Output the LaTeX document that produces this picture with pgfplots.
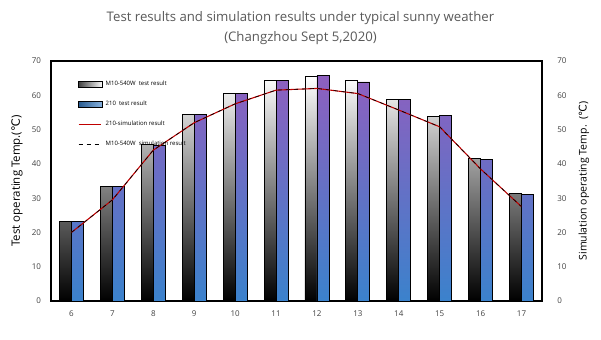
\documentclass[border=0pt]{standalone}
\usepackage{pgfplots}
\pgfplotsset{compat=1.18}
\usepackage{fontspec}
\setmainfont{Open Sans}
\newfontfamily\dejavu{DejaVu Sans}
\definecolor{txt}{HTML}{404040}
\definecolor{ttl}{HTML}{595959}
\definecolor{purp}{HTML}{8E5FBF}
\definecolor{blu}{HTML}{3B82CC}
\definecolor{simred}{HTML}{C00000}
\begin{document}
\begin{tikzpicture}
\begin{axis}[
  name=main,
  scale only axis, width=368.25pt, height=180pt,
  xmin=5.5, xmax=17.5, ymin=0, ymax=70,
  xtick={6,...,17}, ytick={0,10,...,70},
  ytick pos=left, xtick pos=bottom,
  axis line style={line width=1.2pt},
  major tick length=0pt,
  /pgf/number format/assume math mode=true,
  ticklabel style={font=\fontsize{6}{7}\selectfont, text=txt},
  yticklabel style={xshift=-4pt},
  xticklabel style={yshift=-4pt},
  ylabel={Test operating Temp.({\dejavu ℃})},
  ylabel style={at={(axis description cs:-0.0693,0.5)}, anchor=center, font=\fontsize{8.6}{10}\selectfont, text=black},
  title={Test results and simulation results under typical sunny weather\\(Changzhou Sept 5,2020)},
  title style={at={(axis description cs:0.5,1)}, anchor=south, yshift=3pt, xshift=3pt, align=center, font=\fontsize{9.9}{14.5}\selectfont, text=ttl},
  legend style={draw=none, fill=none, at={(axis description cs:0,1)}, anchor=north west, xshift=17pt, yshift=-11pt, font=\fontsize{4.5}{5}\selectfont, row sep=6pt, cells={anchor=west}},
]
\addlegendimage{legend image code/.code={\draw[draw=black, line width=0.6pt, left color=gray!50!black, right color=white] (0pt,-2pt) rectangle (18pt,2pt);}}
\addlegendentry{M10-540W\ \ test result}
\addlegendimage{legend image code/.code={\draw[draw=black, line width=0.6pt, left color=blu!70!black, right color=blu!60!white] (0pt,-2pt) rectangle (18pt,2pt);}}
\addlegendentry{210\ \ test result}
\addlegendimage{draw=simred, line width=1pt}
\addlegendentry{210-simulation result}
\addlegendimage{draw=black, dashed, line width=0.8pt}
\addlegendentry{M10-540W\ \ simulation result}

\addplot[ybar, bar width=9pt, bar shift=-4.5pt, draw=black, line width=0.6pt, top color=white, bottom color=black, forget plot] coordinates {
(6,23.2) (7,33.5) (8,45.7) (9,54.4) (10,60.5) (11,64.2) (12,65.6) (13,64.3) (14,58.7) (15,53.7) (16,41.5) (17,31.3)};
\addplot[ybar, bar width=9pt, bar shift=4.5pt, draw=black, line width=0.6pt, top color=purp, middle color=blu, bottom color=blu, forget plot] coordinates {
(6,23.3) (7,33.5) (8,45.5) (9,54.4) (10,60.5) (11,64.2) (12,65.8) (13,63.9) (14,58.7) (15,54.1) (16,41.3) (17,31.0)};
\addplot[simred, line width=0.8pt, mark=none, forget plot] coordinates {
(6,20) (7,29.5) (8,44) (9,52) (10,57.5) (11,61.5) (12,62) (13,60.5) (14,55.7) (15,50.8) (16,38.5) (17,27.5)};
\addplot[black, dashed, line width=0.5pt, mark=none, forget plot] coordinates {
(6,20) (7,29.5) (8,44) (9,52) (10,57.5) (11,61.5) (12,62) (13,60.5) (14,55.7) (15,50.8) (16,38.5) (17,27.5)};
\end{axis}
\begin{axis}[
  scale only axis, width=368.25pt, height=180pt,
  xmin=5.5, xmax=17.5, ymin=0, ymax=70,
  hide x axis, axis y line*=right,
  ytick={0,10,...,70},
  axis line style={line width=1.2pt},
  major tick length=0pt,
  /pgf/number format/assume math mode=true,
  ticklabel style={font=\fontsize{6}{7}\selectfont, text=txt},
  yticklabel style={xshift=8pt},
  ylabel={Simulation operating Temp.\ \ ({\dejavu ℃})},
  ylabel style={at={(axis description cs:1.0855,0.5)}, anchor=center, rotate=0, font=\fontsize{7.9}{9}\selectfont, text=black},
]
\end{axis}
\pgfresetboundingbox
\path[use as bounding box] ([shift={(-38.25pt,-28.5pt)}]main.south west) rectangle ([shift={(44.25pt,45.75pt)}]main.north east);
\end{tikzpicture}
\end{document}
